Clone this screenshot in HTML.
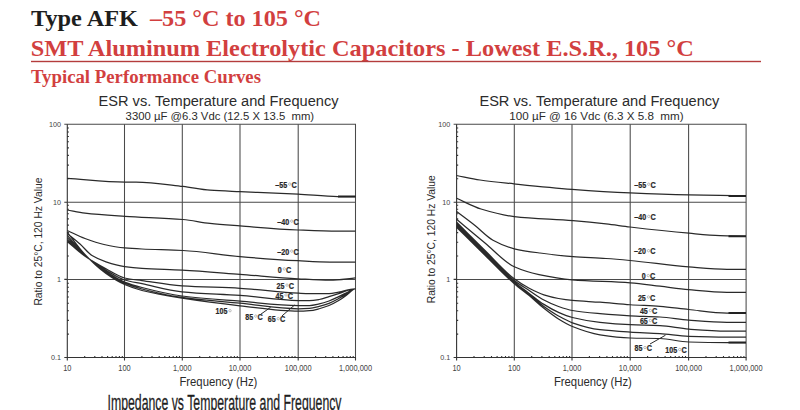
<!DOCTYPE html>
<html><head><meta charset="utf-8"><style>
html,body{margin:0;padding:0;background:#fff;width:800px;height:410px;overflow:hidden}
svg{display:block}
text{font-family:"Liberation Sans",sans-serif}
.serif{font-family:"Liberation Serif",serif;font-weight:bold}
</style></head><body>
<svg width="800" height="410" viewBox="0 0 800 410">
<rect width="800" height="410" fill="#fff"/>
<text class="serif" x="31" y="25.6" font-size="24" textLength="107" lengthAdjust="spacingAndGlyphs" fill="#1e1e1e">Type AFK</text>
<text class="serif" x="150" y="25.6" font-size="24" textLength="171" lengthAdjust="spacingAndGlyphs" fill="#d23f3f">–55 °C to 105 °C</text>
<text class="serif" x="30.8" y="55.8" font-size="24" textLength="663" lengthAdjust="spacingAndGlyphs" fill="#d23f3f">SMT Aluminum Electrolytic Capacitors - Lowest E.S.R., 105 °C</text>
<rect x="31" y="60.8" width="730" height="1.4" fill="#b43c3c"/>
<text class="serif" x="31" y="82.5" font-size="18.7" textLength="230" lengthAdjust="spacingAndGlyphs" fill="#d23f3f">Typical Performance Curves</text>
<text x="98.5" y="105.6" font-size="14.7" textLength="240" lengthAdjust="spacingAndGlyphs" fill="#2b2b2b">ESR vs. Temperature and Frequency</text>
<text x="125.6" y="120.1" font-size="11.6" textLength="188.5" lengthAdjust="spacingAndGlyphs" fill="#2b2b2b" style="white-space:pre">3300 µF @6.3 Vdc (12.5 X 13.5  mm)</text>
<path d="M124.5,124.3V357.5 M182.3,124.3V357.5 M240.0,124.3V357.5 M298.2,124.3V357.5 M67.3,202.2H355.5 M67.3,279.4H355.5" stroke="#4a4a4a" stroke-width="1.05" fill="none"/>
<path d="M64.3,124.3H355.5V357.5" stroke="#4a4a4a" stroke-width="1.05" fill="none"/>
<path d="M67.3,124.3V360.5 M64.3,357.5H355.5V360.5 M64.3,202.2H67.3 M64.3,279.4H67.3 M124.5,357.5V360.5 M182.3,357.5V360.5 M240.0,357.5V360.5 M298.2,357.5V360.5 M67.3,178.8h1.6 M67.3,165.1h1.6 M67.3,155.4h1.6 M67.3,147.9h1.6 M67.3,141.7h1.6 M67.3,136.5h1.6 M67.3,132.0h1.6 M67.3,128.0h1.6 M67.3,256.0h1.6 M67.3,242.3h1.6 M67.3,232.6h1.6 M67.3,225.1h1.6 M67.3,218.9h1.6 M67.3,213.7h1.6 M67.3,209.2h1.6 M67.3,205.2h1.6 M67.3,334.1h1.6 M67.3,320.4h1.6 M67.3,310.7h1.6 M67.3,303.2h1.6 M67.3,297.0h1.6 M67.3,291.8h1.6 M67.3,287.3h1.6 M67.3,283.3h1.6 M84.7,357.5v-1.6 M94.8,357.5v-1.6 M102.0,357.5v-1.6 M107.6,357.5v-1.6 M112.2,357.5v-1.6 M116.0,357.5v-1.6 M119.4,357.5v-1.6 M122.3,357.5v-1.6 M141.9,357.5v-1.6 M152.0,357.5v-1.6 M159.2,357.5v-1.6 M164.8,357.5v-1.6 M169.4,357.5v-1.6 M173.2,357.5v-1.6 M176.6,357.5v-1.6 M179.5,357.5v-1.6 M199.7,357.5v-1.6 M209.8,357.5v-1.6 M217.0,357.5v-1.6 M222.6,357.5v-1.6 M227.2,357.5v-1.6 M231.0,357.5v-1.6 M234.4,357.5v-1.6 M237.3,357.5v-1.6 M257.4,357.5v-1.6 M267.5,357.5v-1.6 M274.7,357.5v-1.6 M280.3,357.5v-1.6 M284.9,357.5v-1.6 M288.7,357.5v-1.6 M292.1,357.5v-1.6 M295.0,357.5v-1.6 M315.6,357.5v-1.6 M325.7,357.5v-1.6 M332.9,357.5v-1.6 M338.5,357.5v-1.6 M343.1,357.5v-1.6 M346.9,357.5v-1.6 M350.3,357.5v-1.6 M353.2,357.5v-1.6" stroke="#333" stroke-width="1.1" fill="none"/>
<text x="61.0" y="127.0" font-size="8" text-anchor="end" textLength="12.01" lengthAdjust="spacingAndGlyphs" fill="#444">100</text>
<text x="61.0" y="204.89999999999998" font-size="8" text-anchor="end" textLength="8.01" lengthAdjust="spacingAndGlyphs" fill="#444">10</text>
<text x="61.0" y="282.09999999999997" font-size="8" text-anchor="end" textLength="4.00" lengthAdjust="spacingAndGlyphs" fill="#444">1</text>
<text x="61.0" y="360.2" font-size="8" text-anchor="end" textLength="10.01" lengthAdjust="spacingAndGlyphs" fill="#444">0.1</text>
<text x="67.3" y="371.3" font-size="8.3" text-anchor="middle" textLength="8.27" lengthAdjust="spacingAndGlyphs" fill="#444">10</text>
<text x="124.5" y="371.3" font-size="8.3" text-anchor="middle" textLength="12.41" lengthAdjust="spacingAndGlyphs" fill="#444">100</text>
<text x="182.3" y="371.3" font-size="8.3" text-anchor="middle" textLength="18.61" lengthAdjust="spacingAndGlyphs" fill="#444">1,000</text>
<text x="240.0" y="371.3" font-size="8.3" text-anchor="middle" textLength="22.75" lengthAdjust="spacingAndGlyphs" fill="#444">10,000</text>
<text x="298.2" y="371.3" font-size="8.3" text-anchor="middle" textLength="26.89" lengthAdjust="spacingAndGlyphs" fill="#444">100,000</text>
<text x="355.5" y="371.3" font-size="8.3" text-anchor="middle" textLength="33.09" lengthAdjust="spacingAndGlyphs" fill="#444">1,000,000</text>
<text x="179.4" y="385.6" font-size="12" textLength="78" lengthAdjust="spacingAndGlyphs" fill="#2b2b2b">Frequency (Hz)</text>
<text transform="translate(42.0,305.6) rotate(-90)" x="0" y="0" font-size="10.4" textLength="128" lengthAdjust="spacingAndGlyphs" fill="#2b2b2b">Ratio to 25°C, 120 Hz Value</text>
<path d="M67.30,178.30 C86.53,179.53 105.77,182.00 125.00,182.00 C128.67,182.00 132.33,182.00 136.00,182.00 C151.67,182.00 167.33,184.61 183.00,186.40 C192.00,187.43 201.00,189.53 210.00,190.20 C220.00,190.94 230.00,191.24 240.00,191.70 C259.33,192.58 278.67,193.13 298.00,194.10 C311.33,194.77 324.67,196.60 338.00,196.60 C343.83,196.60 349.67,196.60 355.50,196.60 M67.30,210.00 C73.20,211.07 79.10,212.53 85.00,213.20 C98.33,214.73 111.67,215.43 125.00,216.30 C144.33,217.56 163.67,217.87 183.00,219.50 C192.00,220.26 201.00,222.44 210.00,223.40 C220.00,224.46 230.00,225.13 240.00,225.90 C259.33,227.39 278.67,229.21 298.00,230.00 C311.33,230.55 324.67,231.20 338.00,231.20 C343.83,231.20 349.67,231.20 355.50,231.20 M67.30,230.50 C73.20,233.17 79.10,236.30 85.00,238.50 C91.33,240.86 97.67,243.12 104.00,244.50 C110.87,245.99 117.73,247.28 124.60,247.90 C130.40,248.42 136.20,248.72 142.00,249.00 C155.67,249.66 169.33,249.77 183.00,250.50 C202.00,251.51 221.00,254.98 240.00,256.60 C259.33,258.25 278.67,259.73 298.00,260.70 C308.67,261.24 319.33,262.00 330.00,262.00 C338.50,262.00 347.00,262.00 355.50,262.00 M67.30,233.50 C71.53,237.00 75.77,240.24 80.00,244.00 C84.00,247.55 88.00,253.03 92.00,255.50 C96.67,258.38 101.33,260.25 106.00,261.80 C112.20,263.86 118.40,265.69 124.60,266.60 C130.40,267.45 136.20,268.03 142.00,268.40 C155.33,269.25 168.67,269.40 182.00,270.10 C201.33,271.12 220.67,272.85 240.00,274.30 C259.33,275.75 278.67,277.75 298.00,278.80 C308.67,279.38 319.33,280.20 330.00,280.20 C338.50,280.20 347.00,278.60 355.50,277.80 M67.30,241.50 C72.87,246.17 78.43,251.56 84.00,255.50 C91.33,260.69 98.67,264.82 106.00,268.80 C112.20,272.16 118.40,276.59 124.60,278.00 C130.40,279.32 136.20,279.79 142.00,280.60 C155.33,282.47 168.67,284.91 182.00,285.80 C201.33,287.09 220.67,287.20 240.00,288.30 C259.53,289.41 279.07,292.29 298.60,293.20 C302.23,293.37 305.87,293.60 309.50,293.60 C316.00,293.60 322.50,293.60 329.00,293.60 C332.23,293.60 335.47,292.75 338.70,292.20 C344.07,291.29 349.43,288.80 354.80,288.80 C355.03,288.80 355.27,288.80 355.50,288.80 M67.30,239.80 C72.87,244.87 78.43,250.60 84.00,255.00 C91.33,260.80 98.67,265.83 106.00,270.20 C112.20,273.89 118.40,278.13 124.60,280.00 C130.40,281.75 136.20,282.49 142.00,283.70 C155.33,286.47 168.67,290.49 182.00,291.80 C201.33,293.70 220.67,294.00 240.00,295.40 C259.53,296.81 279.07,300.50 298.60,300.50 C302.23,300.50 305.87,300.50 309.50,300.50 C312.73,300.50 315.97,299.99 319.20,299.50 C322.47,299.00 325.73,297.59 329.00,296.60 C332.23,295.62 335.47,294.58 338.70,293.60 C344.07,291.97 349.43,288.80 354.80,288.80 C355.03,288.80 355.27,288.80 355.50,288.80 M67.30,237.60 C72.87,243.23 78.43,249.59 84.00,254.50 C91.33,260.97 98.67,266.74 106.00,271.50 C112.20,275.53 118.40,279.50 124.60,282.00 C130.40,284.34 136.20,285.99 142.00,287.50 C155.33,290.98 168.67,294.28 182.00,296.00 C201.33,298.50 220.67,299.64 240.00,301.20 C259.53,302.78 279.07,305.50 298.60,305.50 C302.23,305.50 305.87,305.50 309.50,305.50 C312.73,305.50 315.97,304.58 319.20,303.90 C322.47,303.21 325.73,302.17 329.00,301.00 C332.23,299.84 335.47,298.14 338.70,296.60 C341.97,295.05 345.23,293.26 348.50,291.70 C350.60,290.70 352.70,288.80 354.80,288.80 C355.03,288.80 355.27,288.80 355.50,288.80 M67.30,235.40 C72.87,241.60 78.43,248.63 84.00,254.00 C91.33,261.07 98.67,267.52 106.00,272.50 C112.20,276.71 118.40,280.59 124.60,283.20 C130.40,285.64 136.20,287.46 142.00,289.00 C155.33,292.54 168.67,295.55 182.00,297.40 C201.33,300.08 220.67,301.32 240.00,303.20 C259.53,305.10 279.07,308.75 298.60,308.75 C302.23,308.75 305.87,308.55 309.50,308.30 C312.73,308.07 315.97,307.09 319.20,306.30 C322.47,305.51 325.73,304.62 329.00,303.40 C332.23,302.19 335.47,300.26 338.70,298.50 C341.97,296.72 345.23,294.68 348.50,292.70 C350.60,291.43 352.70,288.80 354.80,288.80 C355.03,288.80 355.27,288.80 355.50,288.80 M67.30,232.40 C72.87,239.43 78.43,247.57 84.00,253.50 C91.33,261.31 98.67,268.28 106.00,273.50 C112.20,277.92 118.40,281.81 124.60,284.50 C130.40,287.02 136.20,289.01 142.00,290.50 C155.33,293.92 168.67,296.10 182.00,298.20 C201.33,301.25 220.67,303.71 240.00,305.80 C259.53,307.91 279.07,311.20 298.60,311.20 C302.23,311.20 305.87,310.97 309.50,310.70 C312.73,310.46 315.97,309.56 319.20,308.75 C322.47,307.93 325.73,306.82 329.00,305.50 C332.23,304.19 335.47,302.42 338.70,300.50 C341.97,298.56 345.23,296.00 348.50,293.60 C350.60,292.06 352.70,288.80 354.80,288.80 C355.03,288.80 355.27,288.80 355.50,288.80" stroke="#2a2a2a" stroke-width="1.25" fill="none" stroke-linejoin="round"/>
<text x="275.30" y="187.70" font-size="8.3" textLength="11.85" lengthAdjust="spacingAndGlyphs" font-weight="bold" fill="#262626" stroke="#262626" stroke-width="0.2">–55</text>
<circle cx="289.75" cy="184.10" r="1.2" stroke="#8a8a8a" stroke-width="0.55" fill="none"/>
<text x="291.45" y="187.70" font-size="8.3" textLength="5.3" lengthAdjust="spacingAndGlyphs" font-weight="bold" fill="#262626" stroke="#262626" stroke-width="0.2">C</text>
<text x="277.30" y="224.70" font-size="8.3" textLength="11.85" lengthAdjust="spacingAndGlyphs" font-weight="bold" fill="#262626" stroke="#262626" stroke-width="0.2">–40</text>
<circle cx="291.75" cy="221.10" r="1.2" stroke="#8a8a8a" stroke-width="0.55" fill="none"/>
<text x="293.45" y="224.70" font-size="8.3" textLength="5.3" lengthAdjust="spacingAndGlyphs" font-weight="bold" fill="#262626" stroke="#262626" stroke-width="0.2">C</text>
<text x="277.30" y="254.70" font-size="8.3" textLength="11.85" lengthAdjust="spacingAndGlyphs" font-weight="bold" fill="#262626" stroke="#262626" stroke-width="0.2">–20</text>
<circle cx="291.75" cy="251.10" r="1.2" stroke="#8a8a8a" stroke-width="0.55" fill="none"/>
<text x="293.45" y="254.70" font-size="8.3" textLength="5.3" lengthAdjust="spacingAndGlyphs" font-weight="bold" fill="#262626" stroke="#262626" stroke-width="0.2">C</text>
<text x="277.70" y="272.50" font-size="8.3" textLength="3.95" lengthAdjust="spacingAndGlyphs" font-weight="bold" fill="#262626" stroke="#262626" stroke-width="0.2">0</text>
<circle cx="284.25" cy="268.90" r="1.2" stroke="#8a8a8a" stroke-width="0.55" fill="none"/>
<text x="285.95" y="272.50" font-size="8.3" textLength="5.3" lengthAdjust="spacingAndGlyphs" font-weight="bold" fill="#262626" stroke="#262626" stroke-width="0.2">C</text>
<text x="276.50" y="288.70" font-size="8.3" textLength="7.90" lengthAdjust="spacingAndGlyphs" font-weight="bold" fill="#262626" stroke="#262626" stroke-width="0.2">25</text>
<circle cx="287.00" cy="285.10" r="1.2" stroke="#8a8a8a" stroke-width="0.55" fill="none"/>
<text x="288.70" y="288.70" font-size="8.3" textLength="5.3" lengthAdjust="spacingAndGlyphs" font-weight="bold" fill="#262626" stroke="#262626" stroke-width="0.2">C</text>
<text x="275.50" y="298.50" font-size="8.3" textLength="7.90" lengthAdjust="spacingAndGlyphs" font-weight="bold" fill="#262626" stroke="#262626" stroke-width="0.2">45</text>
<circle cx="286.00" cy="294.90" r="1.2" stroke="#8a8a8a" stroke-width="0.55" fill="none"/>
<text x="287.70" y="298.50" font-size="8.3" textLength="5.3" lengthAdjust="spacingAndGlyphs" font-weight="bold" fill="#262626" stroke="#262626" stroke-width="0.2">C</text>
<text x="215.60" y="314.30" font-size="8.3" textLength="11.85" lengthAdjust="spacingAndGlyphs" font-weight="bold" fill="#262626" stroke="#262626" stroke-width="0.2">105</text>
<circle cx="230.05" cy="310.70" r="1.2" stroke="#8a8a8a" stroke-width="0.55" fill="none"/>
<text x="245.30" y="319.70" font-size="8.3" textLength="7.90" lengthAdjust="spacingAndGlyphs" font-weight="bold" fill="#262626" stroke="#262626" stroke-width="0.2">85</text>
<circle cx="255.80" cy="316.10" r="1.2" stroke="#8a8a8a" stroke-width="0.55" fill="none"/>
<text x="257.50" y="319.70" font-size="8.3" textLength="5.3" lengthAdjust="spacingAndGlyphs" font-weight="bold" fill="#262626" stroke="#262626" stroke-width="0.2">C</text>
<text x="267.70" y="322.30" font-size="8.3" textLength="7.90" lengthAdjust="spacingAndGlyphs" font-weight="bold" fill="#262626" stroke="#262626" stroke-width="0.2">65</text>
<circle cx="278.20" cy="318.70" r="1.2" stroke="#8a8a8a" stroke-width="0.55" fill="none"/>
<text x="279.90" y="322.30" font-size="8.3" textLength="5.3" lengthAdjust="spacingAndGlyphs" font-weight="bold" fill="#262626" stroke="#262626" stroke-width="0.2">C</text>
<path d="M261,314.1L270.6,307.3" stroke="#2a2a2a" stroke-width="1" fill="none"/>
<path d="M282,315.9L294.6,305" stroke="#2a2a2a" stroke-width="1" fill="none"/>
<text x="479.4" y="105.6" font-size="14.7" textLength="240" lengthAdjust="spacingAndGlyphs" fill="#2b2b2b">ESR vs. Temperature and Frequency</text>
<text x="509.3" y="120.1" font-size="11.6" textLength="174.3" lengthAdjust="spacingAndGlyphs" fill="#2b2b2b" style="white-space:pre">100 µF @ 16 Vdc (6.3 X 5.8  mm)</text>
<path d="M514.3,124.3V357.5 M572.0,124.3V357.5 M630.2,124.3V357.5 M688.6,124.3V357.5 M456.6,202.2H746.1 M456.6,279.4H746.1" stroke="#4a4a4a" stroke-width="1.05" fill="none"/>
<path d="M453.6,124.3H746.1V357.5" stroke="#4a4a4a" stroke-width="1.05" fill="none"/>
<path d="M456.6,124.3V360.5 M453.6,357.5H746.1V360.5 M453.6,202.2H456.6 M453.6,279.4H456.6 M514.3,357.5V360.5 M572.0,357.5V360.5 M630.2,357.5V360.5 M688.6,357.5V360.5 M456.6,178.8h1.6 M456.6,165.1h1.6 M456.6,155.4h1.6 M456.6,147.9h1.6 M456.6,141.7h1.6 M456.6,136.5h1.6 M456.6,132.0h1.6 M456.6,128.0h1.6 M456.6,256.0h1.6 M456.6,242.3h1.6 M456.6,232.6h1.6 M456.6,225.1h1.6 M456.6,218.9h1.6 M456.6,213.7h1.6 M456.6,209.2h1.6 M456.6,205.2h1.6 M456.6,334.1h1.6 M456.6,320.4h1.6 M456.6,310.7h1.6 M456.6,303.2h1.6 M456.6,297.0h1.6 M456.6,291.8h1.6 M456.6,287.3h1.6 M456.6,283.3h1.6 M474.0,357.5v-1.6 M484.2,357.5v-1.6 M491.5,357.5v-1.6 M497.1,357.5v-1.6 M501.7,357.5v-1.6 M505.5,357.5v-1.6 M508.9,357.5v-1.6 M511.9,357.5v-1.6 M531.7,357.5v-1.6 M541.9,357.5v-1.6 M549.2,357.5v-1.6 M554.8,357.5v-1.6 M559.4,357.5v-1.6 M563.2,357.5v-1.6 M566.6,357.5v-1.6 M569.6,357.5v-1.6 M589.4,357.5v-1.6 M599.6,357.5v-1.6 M606.9,357.5v-1.6 M612.5,357.5v-1.6 M617.1,357.5v-1.6 M620.9,357.5v-1.6 M624.3,357.5v-1.6 M627.3,357.5v-1.6 M647.6,357.5v-1.6 M657.8,357.5v-1.6 M665.1,357.5v-1.6 M670.7,357.5v-1.6 M675.3,357.5v-1.6 M679.1,357.5v-1.6 M682.5,357.5v-1.6 M685.5,357.5v-1.6 M706.0,357.5v-1.6 M716.2,357.5v-1.6 M723.5,357.5v-1.6 M729.1,357.5v-1.6 M733.7,357.5v-1.6 M737.5,357.5v-1.6 M740.9,357.5v-1.6 M743.9,357.5v-1.6" stroke="#333" stroke-width="1.1" fill="none"/>
<text x="450.3" y="127.0" font-size="8" text-anchor="end" textLength="12.01" lengthAdjust="spacingAndGlyphs" fill="#444">100</text>
<text x="450.3" y="204.89999999999998" font-size="8" text-anchor="end" textLength="8.01" lengthAdjust="spacingAndGlyphs" fill="#444">10</text>
<text x="450.3" y="282.09999999999997" font-size="8" text-anchor="end" textLength="4.00" lengthAdjust="spacingAndGlyphs" fill="#444">1</text>
<text x="450.3" y="360.2" font-size="8" text-anchor="end" textLength="10.01" lengthAdjust="spacingAndGlyphs" fill="#444">0.1</text>
<text x="456.6" y="371.3" font-size="8.3" text-anchor="middle" textLength="8.27" lengthAdjust="spacingAndGlyphs" fill="#444">10</text>
<text x="514.3" y="371.3" font-size="8.3" text-anchor="middle" textLength="12.41" lengthAdjust="spacingAndGlyphs" fill="#444">100</text>
<text x="572.0" y="371.3" font-size="8.3" text-anchor="middle" textLength="18.61" lengthAdjust="spacingAndGlyphs" fill="#444">1,000</text>
<text x="630.2" y="371.3" font-size="8.3" text-anchor="middle" textLength="22.75" lengthAdjust="spacingAndGlyphs" fill="#444">10,000</text>
<text x="688.6" y="371.3" font-size="8.3" text-anchor="middle" textLength="26.89" lengthAdjust="spacingAndGlyphs" fill="#444">100,000</text>
<text x="746.1" y="371.3" font-size="8.3" text-anchor="middle" textLength="33.09" lengthAdjust="spacingAndGlyphs" fill="#444">1,000,000</text>
<text x="553.9" y="385.6" font-size="12" textLength="78" lengthAdjust="spacingAndGlyphs" fill="#2b2b2b">Frequency (Hz)</text>
<text transform="translate(435.2,303.3) rotate(-90)" x="0" y="0" font-size="10.4" textLength="128" lengthAdjust="spacingAndGlyphs" fill="#2b2b2b">Ratio to 25°C, 120 Hz Value</text>
<path d="M456.60,175.50 C464.40,177.00 472.20,178.88 480.00,180.00 C491.33,181.63 502.67,182.63 514.00,183.80 C533.33,185.80 552.67,187.85 572.00,189.30 C591.33,190.75 610.67,192.05 630.00,192.90 C649.67,193.76 669.33,194.49 689.00,194.90 C699.33,195.12 709.67,195.22 720.00,195.40 C728.67,195.55 737.33,195.73 746.00,195.90 M456.60,198.30 C464.73,201.87 472.87,206.52 481.00,209.00 C492.10,212.39 503.20,215.35 514.30,216.60 C533.87,218.80 553.43,219.09 573.00,220.70 C584.00,221.61 595.00,222.67 606.00,223.90 C614.00,224.79 622.00,226.06 630.00,227.00 C649.67,229.31 669.33,231.47 689.00,233.20 C699.33,234.11 709.67,235.19 720.00,235.60 C728.67,235.94 737.33,236.07 746.00,236.30 M456.60,211.50 C462.73,216.17 468.87,220.67 475.00,225.50 C481.00,230.23 487.00,236.93 493.00,240.20 C500.10,244.07 507.20,247.13 514.30,248.80 C522.87,250.82 531.43,251.87 540.00,253.00 C551.00,254.45 562.00,255.77 573.00,256.60 C584.00,257.43 595.00,257.74 606.00,258.50 C614.00,259.05 622.00,259.76 630.00,260.50 C649.57,262.31 669.13,265.37 688.70,266.90 C701.47,267.90 714.23,269.30 727.00,269.30 C733.33,269.30 739.67,269.30 746.00,269.30 M456.60,219.30 C466.07,227.20 475.53,235.21 485.00,243.00 C494.77,251.04 504.53,262.41 514.30,266.80 C522.53,270.50 530.77,272.85 539.00,274.60 C550.07,276.96 561.13,278.90 572.20,279.80 C591.57,281.38 610.93,281.36 630.30,282.80 C640.20,283.53 650.10,285.03 660.00,286.20 C669.57,287.33 679.13,288.83 688.70,289.70 C701.47,290.86 714.23,292.40 727.00,292.40 C733.33,292.40 739.67,292.40 746.00,292.40 M456.60,222.30 C466.07,231.70 475.53,241.23 485.00,250.50 C494.77,260.06 504.53,271.46 514.30,278.80 C519.27,282.53 524.23,285.68 529.20,288.30 C534.10,290.88 539.00,293.34 543.90,294.90 C548.77,296.45 553.63,297.65 558.50,298.50 C563.13,299.31 567.77,299.97 572.40,300.40 C581.60,301.25 590.80,301.53 600.00,302.20 C610.10,302.94 620.20,304.10 630.30,304.75 C640.20,305.39 650.10,305.59 660.00,306.30 C669.57,306.98 679.13,308.53 688.70,309.50 C701.47,310.79 714.23,313.00 727.00,313.00 C733.33,313.00 739.67,313.00 746.00,313.00 M456.60,223.50 C466.07,233.00 475.53,242.65 485.00,252.00 C494.77,261.65 504.53,272.89 514.30,280.50 C519.27,284.37 524.23,287.23 529.20,290.50 C534.10,293.73 539.00,297.42 543.90,300.00 C548.77,302.57 553.63,304.80 558.50,306.50 C563.13,308.12 567.77,309.71 572.40,310.50 C581.60,312.06 590.80,312.79 600.00,313.60 C610.10,314.49 620.20,315.28 630.30,315.80 C640.20,316.31 650.10,316.41 660.00,317.00 C669.57,317.57 679.13,319.46 688.70,320.20 C701.47,321.18 714.23,322.40 727.00,322.40 C733.33,322.40 739.67,322.40 746.00,322.40 M456.60,224.80 C466.07,234.27 475.53,243.81 485.00,253.20 C494.77,262.88 504.53,273.71 514.30,282.00 C519.27,286.22 524.23,289.64 529.20,293.40 C534.10,297.11 539.00,301.30 543.90,304.40 C548.77,307.48 553.63,310.26 558.50,312.40 C563.13,314.43 567.77,316.35 572.40,317.50 C581.60,319.79 590.80,321.42 600.00,322.40 C610.10,323.48 620.20,324.26 630.30,324.70 C640.20,325.13 650.10,325.12 660.00,325.60 C669.57,326.07 679.13,328.41 688.70,329.10 C701.47,330.02 714.23,331.00 727.00,331.00 C733.33,331.00 739.67,331.00 746.00,331.00 M456.60,226.00 C466.07,235.40 475.53,244.85 485.00,254.20 C494.77,263.85 504.53,274.49 514.30,283.00 C519.27,287.33 524.23,290.96 529.20,294.90 C534.10,298.79 539.00,303.01 543.90,306.50 C548.77,309.97 553.63,313.29 558.50,316.00 C563.13,318.58 567.77,321.21 572.40,322.80 C581.60,325.96 590.80,328.58 600.00,329.70 C610.10,330.92 620.20,331.48 630.30,332.10 C640.20,332.71 650.10,332.95 660.00,333.60 C669.57,334.23 679.13,335.96 688.70,336.30 C701.47,336.75 714.23,337.10 727.00,337.10 C733.33,337.10 739.67,337.10 746.00,337.10 M456.60,227.30 C466.07,236.60 475.53,245.95 485.00,255.20 C494.77,264.75 504.53,275.22 514.30,283.70 C519.27,288.01 524.23,291.48 529.20,295.60 C534.10,299.67 539.00,304.41 543.90,308.30 C548.77,312.16 553.63,315.98 558.50,319.00 C563.13,321.88 567.77,324.65 572.40,326.50 C581.60,330.17 590.80,333.35 600.00,334.80 C610.10,336.39 620.20,337.71 630.30,338.00 C640.20,338.29 650.10,338.21 660.00,338.50 C669.57,338.78 679.13,341.77 688.70,342.00 C701.47,342.31 714.23,342.50 727.00,342.50 C733.33,342.50 739.67,342.50 746.00,342.50" stroke="#2a2a2a" stroke-width="1.25" fill="none" stroke-linejoin="round"/>
<text x="634.30" y="187.80" font-size="8.3" textLength="11.85" lengthAdjust="spacingAndGlyphs" font-weight="bold" fill="#262626" stroke="#262626" stroke-width="0.2">–55</text>
<circle cx="648.75" cy="184.20" r="1.2" stroke="#8a8a8a" stroke-width="0.55" fill="none"/>
<text x="650.45" y="187.80" font-size="8.3" textLength="5.3" lengthAdjust="spacingAndGlyphs" font-weight="bold" fill="#262626" stroke="#262626" stroke-width="0.2">C</text>
<text x="634.30" y="220.00" font-size="8.3" textLength="11.85" lengthAdjust="spacingAndGlyphs" font-weight="bold" fill="#262626" stroke="#262626" stroke-width="0.2">–40</text>
<circle cx="648.75" cy="216.40" r="1.2" stroke="#8a8a8a" stroke-width="0.55" fill="none"/>
<text x="650.45" y="220.00" font-size="8.3" textLength="5.3" lengthAdjust="spacingAndGlyphs" font-weight="bold" fill="#262626" stroke="#262626" stroke-width="0.2">C</text>
<text x="634.10" y="254.30" font-size="8.3" textLength="11.85" lengthAdjust="spacingAndGlyphs" font-weight="bold" fill="#262626" stroke="#262626" stroke-width="0.2">–20</text>
<circle cx="648.55" cy="250.70" r="1.2" stroke="#8a8a8a" stroke-width="0.55" fill="none"/>
<text x="650.25" y="254.30" font-size="8.3" textLength="5.3" lengthAdjust="spacingAndGlyphs" font-weight="bold" fill="#262626" stroke="#262626" stroke-width="0.2">C</text>
<text x="641.70" y="279.20" font-size="8.3" textLength="3.95" lengthAdjust="spacingAndGlyphs" font-weight="bold" fill="#262626" stroke="#262626" stroke-width="0.2">0</text>
<circle cx="648.25" cy="275.60" r="1.2" stroke="#8a8a8a" stroke-width="0.55" fill="none"/>
<text x="649.95" y="279.20" font-size="8.3" textLength="5.3" lengthAdjust="spacingAndGlyphs" font-weight="bold" fill="#262626" stroke="#262626" stroke-width="0.2">C</text>
<text x="637.90" y="300.60" font-size="8.3" textLength="7.90" lengthAdjust="spacingAndGlyphs" font-weight="bold" fill="#262626" stroke="#262626" stroke-width="0.2">25</text>
<circle cx="648.40" cy="297.00" r="1.2" stroke="#8a8a8a" stroke-width="0.55" fill="none"/>
<text x="650.10" y="300.60" font-size="8.3" textLength="5.3" lengthAdjust="spacingAndGlyphs" font-weight="bold" fill="#262626" stroke="#262626" stroke-width="0.2">C</text>
<text x="639.90" y="314.10" font-size="8.3" textLength="7.90" lengthAdjust="spacingAndGlyphs" font-weight="bold" fill="#262626" stroke="#262626" stroke-width="0.2">45</text>
<circle cx="650.40" cy="310.50" r="1.2" stroke="#8a8a8a" stroke-width="0.55" fill="none"/>
<text x="652.10" y="314.10" font-size="8.3" textLength="5.3" lengthAdjust="spacingAndGlyphs" font-weight="bold" fill="#262626" stroke="#262626" stroke-width="0.2">C</text>
<text x="639.90" y="324.10" font-size="8.3" textLength="7.90" lengthAdjust="spacingAndGlyphs" font-weight="bold" fill="#262626" stroke="#262626" stroke-width="0.2">65</text>
<circle cx="650.40" cy="320.50" r="1.2" stroke="#8a8a8a" stroke-width="0.55" fill="none"/>
<text x="652.10" y="324.10" font-size="8.3" textLength="5.3" lengthAdjust="spacingAndGlyphs" font-weight="bold" fill="#262626" stroke="#262626" stroke-width="0.2">C</text>
<text x="634.50" y="351.10" font-size="8.3" textLength="7.90" lengthAdjust="spacingAndGlyphs" font-weight="bold" fill="#262626" stroke="#262626" stroke-width="0.2">85</text>
<circle cx="645.00" cy="347.50" r="1.2" stroke="#8a8a8a" stroke-width="0.55" fill="none"/>
<text x="646.70" y="351.10" font-size="8.3" textLength="5.3" lengthAdjust="spacingAndGlyphs" font-weight="bold" fill="#262626" stroke="#262626" stroke-width="0.2">C</text>
<text x="665.30" y="353.10" font-size="8.3" textLength="11.85" lengthAdjust="spacingAndGlyphs" font-weight="bold" fill="#262626" stroke="#262626" stroke-width="0.2">105</text>
<circle cx="679.75" cy="349.50" r="1.2" stroke="#8a8a8a" stroke-width="0.55" fill="none"/>
<text x="681.45" y="353.10" font-size="8.3" textLength="5.3" lengthAdjust="spacingAndGlyphs" font-weight="bold" fill="#262626" stroke="#262626" stroke-width="0.2">C</text>
<path d="M650,344L665.5,335.2" stroke="#2a2a2a" stroke-width="1" fill="none"/>
<path d="M338,196.6H355.5M728.5,195.9H746M728.5,236.3H746M728.5,313H746M728.5,342.5H746" stroke="#222" stroke-width="2" fill="none"/>
<text x="107.5" y="410.3" font-size="22" textLength="234" lengthAdjust="spacingAndGlyphs" fill="#1e1e1e" stroke="#1e1e1e" stroke-width="0.3">Impedance vs Temperature and Frequency</text>
</svg>
</body></html>
